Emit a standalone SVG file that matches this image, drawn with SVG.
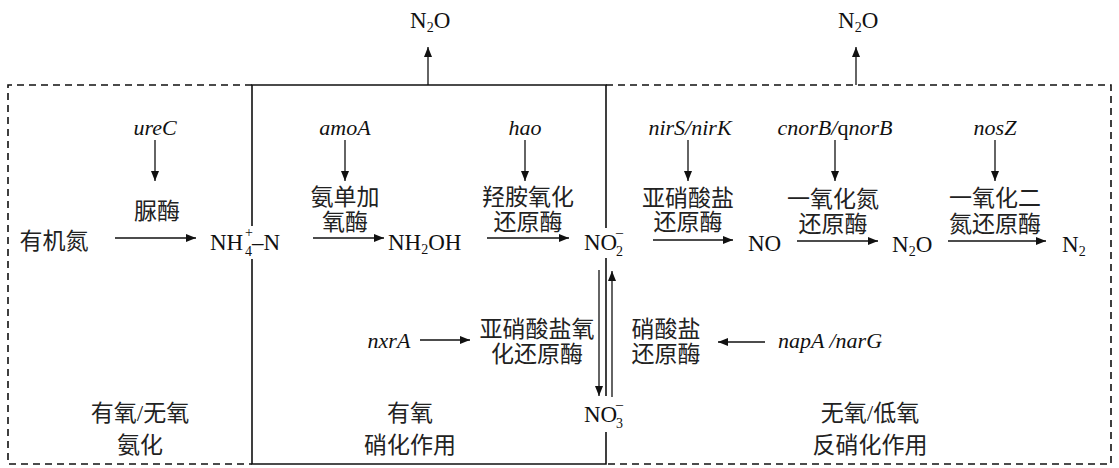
<svg xmlns="http://www.w3.org/2000/svg" width="1119" height="468" viewBox="0 0 1119 468">
<style>
.cn{font-family:"Liberation Serif","Noto Sans CJK SC",serif;font-size:23px;fill:#222;text-anchor:middle}
.la{font-family:"Liberation Serif",serif;font-size:23px;fill:#111}
.gene{font-family:"Liberation Serif",serif;font-size:22px;font-style:italic;fill:#111;text-anchor:middle}
.sm{font-family:"Liberation Serif",serif;font-size:14px;fill:#111}
.ln{stroke:#111;stroke-width:1.3;fill:none}
.box{stroke:#111;stroke-width:1.6;fill:none}
.dash{stroke:#111;stroke-width:1.6;fill:none;stroke-dasharray:7 5}
</style>
<defs>
<marker id="ah" viewBox="0 0 10 10" refX="10" refY="5" markerWidth="10" markerHeight="10" markerUnits="userSpaceOnUse" orient="auto">
<path d="M0,1 L10,5 L0,9 Z" fill="#111"/>
</marker>
</defs>
<rect width="1119" height="468" fill="#fff"/>
<g id="frames">
<path class="dash" d="M252,85 H8 V464 H252"/>
<path class="dash" d="M606,85 H1111 V464 H606"/>
<path class="box" d="M606,228 V85 H252 V226 M252,259 V464 H606 V432 M606,396 V258"/>
</g>
<g id="connectors">
<line class="ln" x1="428" y1="85" x2="428" y2="47" marker-end="url(#ah)"/>
<line class="ln" x1="856" y1="85" x2="856" y2="47" marker-end="url(#ah)"/>
<line class="ln" x1="155" y1="140" x2="155" y2="181" marker-end="url(#ah)"/>
<line class="ln" x1="345" y1="140" x2="345" y2="181" marker-end="url(#ah)"/>
<line class="ln" x1="525" y1="140" x2="525" y2="181" marker-end="url(#ah)"/>
<line class="ln" x1="688" y1="140" x2="688" y2="181" marker-end="url(#ah)"/>
<line class="ln" x1="835" y1="140" x2="835" y2="181" marker-end="url(#ah)"/>
<line class="ln" x1="995" y1="140" x2="995" y2="181" marker-end="url(#ah)"/>
<line class="ln" x1="115" y1="238" x2="196" y2="238" marker-end="url(#ah)"/>
<line class="ln" x1="313" y1="238" x2="384" y2="238" marker-end="url(#ah)"/>
<line class="ln" x1="487" y1="238" x2="569" y2="238" marker-end="url(#ah)"/>
<line class="ln" x1="653" y1="240" x2="733" y2="240" marker-end="url(#ah)"/>
<line class="ln" x1="797" y1="241" x2="878" y2="241" marker-end="url(#ah)"/>
<line class="ln" x1="948" y1="241" x2="1046" y2="241" marker-end="url(#ah)"/>
<line class="ln" x1="599" y1="270" x2="599" y2="396" marker-end="url(#ah)"/>
<line class="ln" x1="612" y1="397" x2="612" y2="271" marker-end="url(#ah)"/>
<line class="ln" x1="420" y1="340" x2="470" y2="340" marker-end="url(#ah)"/>
<line class="ln" x1="765" y1="342" x2="718" y2="342" marker-end="url(#ah)"/>
</g>
<g id="n2o-top1"><text class="la" x="410" y="28">N<tspan class="sm" dy="4">2</tspan><tspan dy="-4">O</tspan></text></g>
<g id="n2o-top2"><text class="la" x="838" y="28">N<tspan class="sm" dy="4">2</tspan><tspan dy="-4">O</tspan></text></g>
<g id="genes">
<text class="gene" x="155" y="135">ureC</text>
<text class="gene" x="345" y="135">amoA</text>
<text class="gene" x="525" y="135">hao</text>
<text class="gene" x="690" y="135">nirS/nirK</text>
<text class="gene" x="835" y="135">cnorB/<tspan font-style="normal">q</tspan>norB</text>
<text class="gene" x="995" y="135">nosZ</text>
<text class="gene" x="389" y="348">nxrA</text>
<text class="gene" x="830" y="348">napA /narG</text>
</g>
<g id="enzymes">
<text class="cn" x="157" y="219">脲酶</text>
<text class="cn" x="345" y="205">氨单加</text>
<text class="cn" x="345" y="230">氧酶</text>
<text class="cn" x="528" y="205">羟胺氧化</text>
<text class="cn" x="528" y="230">还原酶</text>
<text class="cn" x="688" y="206">亚硝酸盐</text>
<text class="cn" x="688" y="230">还原酶</text>
<text class="cn" x="833" y="207">一氧化氮</text>
<text class="cn" x="833" y="232">还原酶</text>
<text class="cn" x="995" y="206">一氧化二</text>
<text class="cn" x="995" y="232">氮还原酶</text>
<text class="cn" x="537" y="337">亚硝酸盐氧</text>
<text class="cn" x="537" y="362">化还原酶</text>
<text class="cn" x="666" y="337">硝酸盐</text>
<text class="cn" x="666" y="362">还原酶</text>
</g>
<g id="species">
<text class="cn" x="54" y="249">有机氮</text>
<text class="la" x="210" y="250">NH</text>
<text class="sm" x="245" y="237">+</text>
<text class="sm" x="245" y="256">4</text>
<text class="la" x="252" y="250">–N</text>
<text class="la" x="388" y="250">NH<tspan class="sm" dy="4">2</tspan><tspan dy="-4">OH</tspan></text>
<text class="la" x="584" y="250">NO</text>
<text class="sm" x="616" y="237">–</text>
<text class="sm" x="616" y="256">2</text>
<text class="la" x="748" y="251">NO</text>
<text class="la" x="892" y="252">N<tspan class="sm" dy="4">2</tspan><tspan dy="-4">O</tspan></text>
<text class="la" x="1062" y="252">N<tspan class="sm" dy="4">2</tspan></text>
<text class="la" x="584" y="422">NO</text>
<text class="sm" x="616" y="409">–</text>
<text class="sm" x="616" y="428">3</text>
</g>
<g id="regions">
<text class="cn" x="140" y="421">有氧/无氧</text>
<text class="cn" x="140" y="453">氨化</text>
<text class="cn" x="410" y="421">有氧</text>
<text class="cn" x="410" y="453">硝化作用</text>
<text class="cn" x="870" y="421">无氧/低氧</text>
<text class="cn" x="870" y="453">反硝化作用</text>
</g>
</svg>
